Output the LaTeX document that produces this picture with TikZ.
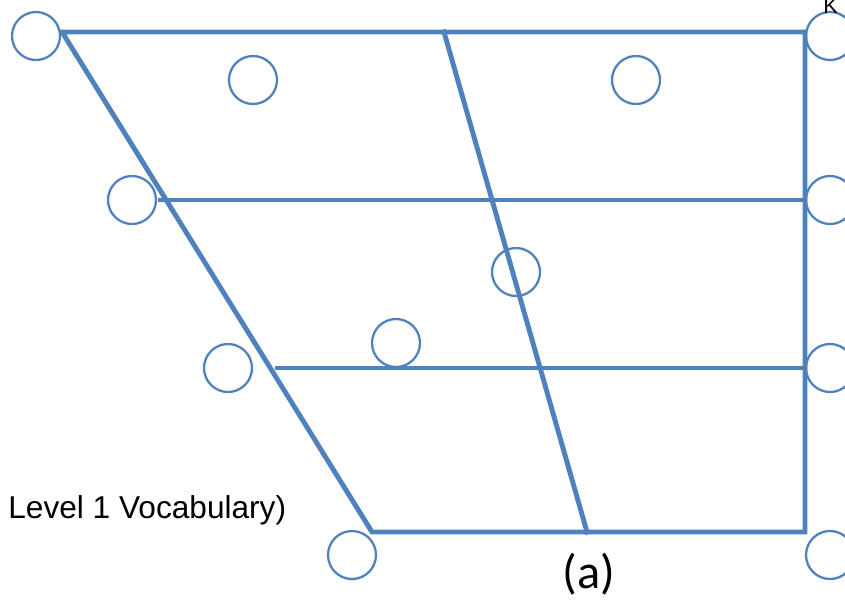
\documentclass[tikz,border=0pt]{standalone}
\usepackage{fontspec}
\setmainfont{Liberation Sans}
\newfontfamily\capfont{Carlito}
\usepackage{xcolor}
\usetikzlibrary{positioning, calc}
\definecolor{chartblue}{RGB}{79,129,189}
\tikzset{
  chartline/.style={line width=2.8pt, color=chartblue, line cap=rect},
  vowelslot/.style={
    circle, draw=chartblue, line width=1.3pt,
    minimum size=0.96cm, inner sep=0pt
  },
  chartlabel/.style={font=\fontsize{18}{20}\selectfont, inner sep=0pt},
}

\begin{document}
\begin{tikzpicture}[x=0.02cm, y=-0.02cm]
  \clip (0,0) rectangle (845,600);
  \useasboundingbox (0,0) rectangle (845,600);

  % ---- vowel slots ----
  \node[vowelslot] (closeFront) at (36,36) {};
  \node[vowelslot] (closeBack) at (830,36) {};
  \node[vowelslot] (nearFront) at (253,80) {};
  \node[vowelslot] (nearBack) at (636,80) {};
  \node[vowelslot] (cmidFront) at (132,200) {};
  \node[vowelslot] (cmidBack) at (830,200) {};
  \node[vowelslot] (midCentral) at (516,272) {};
  \node[vowelslot] (omidCentral) at (396,343) {};
  \node[vowelslot] (omidFront) at (228,368) {};
  \node[vowelslot] (omidBack) at (830,368) {};
  \node[vowelslot] (openFront) at (352,555) {};
  \node[vowelslot] (openBack) at (830,555) {};

  % ---- corners of the chart ----
  \coordinate (frontTop) at (62,32);
  \coordinate (backTop) at (805,32);
  \coordinate (frontBot) at (372,532);
  \coordinate (backBot) at (805,532);
  \coordinate (midTop) at (444,32);
  \coordinate (midBot) at (587,532);
  \coordinate (rowTwoL) at (160,200);
  \coordinate (rowTwoR) at (805,200);
  \coordinate (rowThreeL) at (277,368);
  \coordinate (rowThreeR) at (805,368);

  % ---- frame and grid ----
  \draw[chartline] (frontTop) -- (backTop) -- (backBot) -- (frontBot) -- cycle;
  \draw[chartline] (midTop) -- (midBot);
  \draw[chartline] (rowTwoL) -- (rowTwoR);
  \draw[chartline] (rowThreeL) -- (rowThreeR);

  % ---- texts ----
  \node[chartlabel, anchor=base west] (levelText) at (8,518)
    {Level 1 Vocabulary)};
  \node[font=\capfont\fontsize{27.5}{30}\selectfont, inner sep=0pt,
    anchor=base] (partLabel) at (589,588) {(a)};
  \node[font=\fontsize{12.5}{14}\selectfont, inner sep=0pt,
    anchor=base west] (cornerK) at (823,13) {K};
\end{tikzpicture}
\end{document}
